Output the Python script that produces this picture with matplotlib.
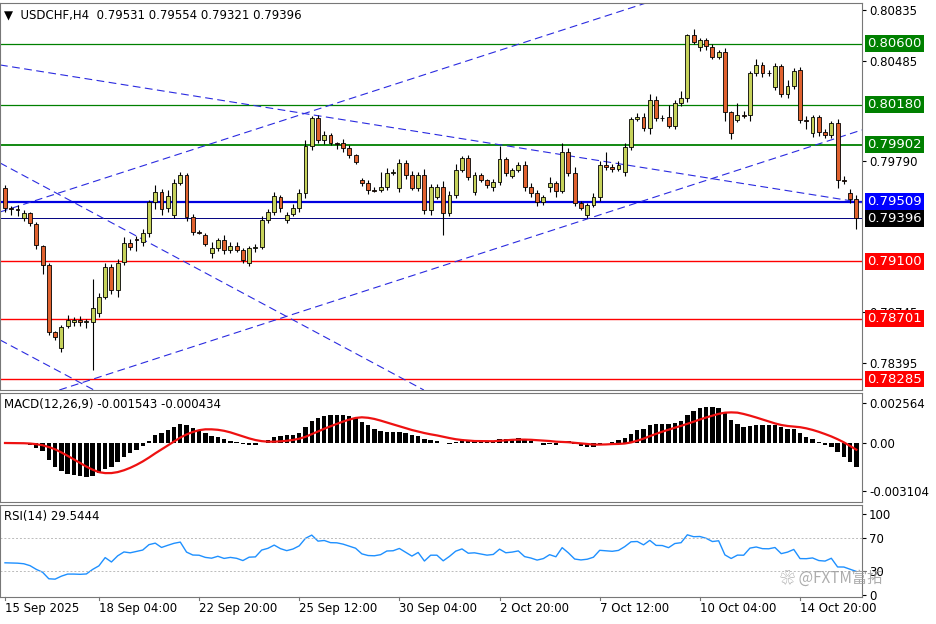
import matplotlib
matplotlib.use("Agg")
import matplotlib.pyplot as plt
import matplotlib.transforms as mtransforms
import numpy as np

# ---- data (prices in 1e-5 units) ----
opens = [79605, 79467, 79460, 79398, 79432, 79356, 79204, 79073, 78610, 78499,
         78651, 78679, 78693, 78679, 78679, 78741, 78852, 79059, 78900, 79094,
         79225, 79253, 79232, 79294, 79508, 79577, 79467, 79418, 79639, 79695,
         79405, 79301, 79280, 79156, 79190, 79246, 79176, 79204, 79176, 79087,
         79190, 79197, 79384, 79439, 79543, 79384, 79425, 79467, 79570, 79895,
         80089, 79937, 79971, 79916, 79916, 79881, 79833, 79660, 79639, 79591,
         79591, 79612, 79709, 79605, 79778, 79695, 79605, 79695, 79453, 79543,
         79612, 79432, 79557, 79729, 79812, 79577, 79695, 79660, 79612, 79646,
         79805, 79688, 79729, 79764, 79612, 79570, 79508, 79612, 79639, 79584,
         79854, 79709, 79501, 79418, 79487, 79543, 79764, 79750, 79736, 79716,
         79888, 80082, 80096, 80020, 80213, 80089, 80096, 80033, 80192, 80227,
         80662, 80579, 80628, 80579, 80510, 80545, 80130, 80075, 80109, 80109,
         80400, 80455, 80400, 80303, 80448, 80254, 80310, 80420, 80075, 79985,
         80096, 79992, 79971, 80054, 79660, 79570, 79531]
closes = [79467, 79460, 79453, 79432, 79363, 79211, 79073, 78610, 78575, 78644,
          78693, 78693, 78679, 78686, 78776, 78852, 79059, 78900, 79087, 79225,
          79197, 79246, 79294, 79508, 79577, 79460, 79550, 79639, 79695, 79405,
          79301, 79294, 79218, 79190, 79246, 79176, 79204, 79176, 79107, 79190,
          79197, 79384, 79439, 79550, 79467, 79418, 79467, 79570, 79895, 80089,
          79937, 79971, 79916, 79912, 79881, 79833, 79785, 79639, 79591, 79584,
          79612, 79709, 79716, 79778, 79695, 79605, 79695, 79453, 79612, 79612,
          79432, 79557, 79729, 79812, 79681, 79695, 79660, 79626, 79646, 79805,
          79709, 79729, 79764, 79612, 79570, 79508, 79543, 79639, 79584, 79854,
          79709, 79501, 79467, 79487, 79543, 79764, 79750, 79736, 79764, 79888,
          80082, 80096, 80020, 80213, 80089, 80085, 80033, 80192, 80227, 80662,
          80614, 80628, 80586, 80510, 80545, 80130, 79985, 80109, 80105, 80400,
          80455, 80400, 80396, 80448, 80254, 80310, 80413, 80075, 80071, 80096,
          79992, 79971, 80054, 79660, 79656, 79529, 79396]
upper_wick = [20, 15, 25, 20, 10, 15, 10, 15, 10, 15, 35, 20, 30, 15, 200, 25, 30, 20, 25, 40,
              30, 20, 30, 15, 50, 20, 40, 30, 20, 15, 20, 15, 15, 40, 15, 35, 25, 30, 15, 15,
              20, 30, 20, 25, 15, 20, 30, 25, 40, 15, 20, 30, 15, 10, 30, 20, 10, 15, 20, 20,
              100, 35, 20, 25, 20, 30, 20, 40, 20, 20, 40, 30, 40, 15, 20, 20, 15, 10, 20, 90,
              15, 15, 20, 30, 25, 20, 15, 45, 15, 60, 25, 40, 15, 15, 25, 25, 90, 20, 30, 25,
              15, 30, 25, 40, 25, 20, 80, 20, 45, 10, 40, 15, 15, 20, 15, 30, 10, 80, 25, 10,
              40, 20, 20, 20, 15, 40, 20, 20, 30, 15, 10, 20, 15, 25, 25, 25, 23]
lower_wick = [30, 40, 45, 20, 20, 30, 60, 20, 20, 30, 15, 25, 25, 40, 330, 30, 15, 25, 50, 20,
              20, 80, 25, 30, 50, 40, 25, 20, 15, 25, 20, 10, 15, 35, 20, 25, 20, 15, 20, 20,
              25, 15, 20, 20, 25, 20, 15, 30, 35, 30, 20, 30, 15, 40, 25, 20, 15, 20, 30, 10,
              15, 20, 15, 25, 30, 15, 20, 30, 35, 15, 150, 20, 20, 15, 20, 20, 15, 20, 25, 20,
              20, 15, 15, 25, 30, 25, 20, 35, 40, 15, 20, 20, 15, 20, 15, 25, 20, 20, 15, 30,
              20, 15, 20, 40, 20, 15, 15, 20, 20, 30, 15, 30, 30, 15, 15, 60, 40, 15, 20, 40,
              20, 25, 15, 20, 20, 30, 20, 20, 60, 30, 25, 20, 20, 55, 25, 30, 75]

levels = [0.80600, 0.80180, 0.79902, 0.79509, 0.79396, 0.79100, 0.78701, 0.78285]
level_colors = ["#008000", "#008000", "#008000", "#0000e0", "#000080", "#ff0000", "#ff0000", "#ff0000"]
level_widths = [0.9, 0.9, 1.3, 1.6, 0.7, 1.0, 1.0, 1.0]
box_colors = ["#008000", "#008000", "#008000", "#0000ff", "#000000", "#ff0000", "#ff0000", "#ff0000"]

# trend lines as (bar, price) pairs
trend_lines = [((-0.8, 0.79439), (102.4, 0.80883)),
               ((13.6, 0.78278), (136.9, 0.80006)),
               ((-0.8, 0.80455), (134.3, 0.79522)),
               ((-0.8, 0.79778), (66.3, 0.78223)),
               ((-0.8, 0.78555), (13.6, 0.78223))]

price_ticks = [0.80835, 0.80485, 0.79790, 0.78745, 0.78395]
date_pos = [0, 15, 31, 47, 63, 79, 95, 111, 127]
date_labels = ["15 Sep 2025", "18 Sep 04:00", "22 Sep 20:00", "25 Sep 12:00", "30 Sep 04:00",
               "2 Oct 20:00", "7 Oct 12:00", "10 Oct 04:00", "14 Oct 20:00"]

o = np.array(opens) / 1e5
c = np.array(closes) / 1e5
hi = np.maximum(o, c) + np.array(upper_wick) / 1e5
lo = np.minimum(o, c) - np.array(lower_wick) / 1e5
n = len(c)
idx = np.arange(n)

# indicators from the closes
def ema(x, p):
    k = 2.0 / (p + 1)
    out = np.empty_like(x)
    out[0] = x[0]
    for i in range(1, len(x)):
        out[i] = x[i] * k + out[i - 1] * (1 - k)
    return out

macd = ema(c, 12) - ema(c, 26)
signal = np.array([macd[max(0, i - 8):i + 1].mean() for i in range(n)])

d = np.diff(c, prepend=c[0])
up = np.where(d > 0, d, 0.0)
dn = np.where(d < 0, -d, 0.0)
au = np.empty(n); ad = np.empty(n)
au[0] = 0.0004; ad[0] = 0.0006
for i in range(1, n):
    au[i] = (au[i - 1] * 13 + up[i]) / 14
    ad[i] = (ad[i - 1] * 13 + dn[i]) / 14
rsi = 100 - 100 / (1 + au / ad)

# ---- figure ----
plt.rcParams['font.family'] = ['DejaVu Sans', 'Noto Sans CJK SC']
fig = plt.figure(figsize=(9.36, 6.24), dpi=100)
W, H = 936.0, 624.0
x_left = -0.8
x_right = 136.9

def panel(top, bottom):
    return fig.add_axes([0, 1 - bottom / H, 862 / W, (bottom - top) / H])

ax = panel(3, 390)
am = panel(393, 502)
ar = panel(505, 597)

for a in (ax, am, ar):
    a.set_xlim(x_left, x_right)
    a.yaxis.tick_right()
    a.tick_params(axis='y', labelsize=8.5, length=3, pad=2)
    a.tick_params(axis='x', length=0, labelbottom=False)
    for s in a.spines.values():
        s.set_color("#777777")
        s.set_linewidth(0.8)

# candles
bull = c >= o
ax.vlines(idx, lo, hi, color="black", linewidth=0.8, zorder=3)
body_h = np.abs(c - o)
body_h = np.where(body_h < 0.00003, 0.00003, body_h)
ax.bar(idx[bull], body_h[bull], bottom=np.minimum(o, c)[bull], width=0.62,
       color="#c6d25a", edgecolor="black", linewidth=0.6, zorder=4)
ax.bar(idx[~bull], body_h[~bull], bottom=np.minimum(o, c)[~bull], width=0.62,
       color="#e0612e", edgecolor="black", linewidth=0.6, zorder=4)

for lv, col, lw in zip(levels, level_colors, level_widths):
    ax.axhline(lv, color=col, linewidth=lw, zorder=2)
for p1, p2 in trend_lines:
    ax.axline(p1, p2, color="#2a2ae0", linewidth=0.8, linestyle=(0, (7, 4)), zorder=2)

ax.set_ylim(0.78209, 0.80883)
ax.set_yticks(price_ticks)
ax.set_yticklabels(["%.5f" % t for t in price_ticks])
trans = mtransforms.blended_transform_factory(ax.transAxes, ax.transData)
for lv, bc in zip(levels, box_colors):
    ax.text(1.006, lv, "%.5f" % lv, transform=trans, fontsize=9.5, color="white",
            va="center", ha="left", zorder=10, clip_on=False,
            bbox=dict(boxstyle="square,pad=0.15", facecolor=bc, edgecolor="none"))
ax.text(0.005, 0.985, "\u25bc  USDCHF,H4  0.79531 0.79554 0.79321 0.79396", transform=ax.transAxes,
        fontsize=8.5, va="top", ha="left")

# MACD
am.bar(idx, macd, width=0.7, color="black")
am.plot(idx, signal, color="#ee1111", linewidth=1.6)
am.set_ylim(-0.003806, 0.003225)
am.set_yticks([0.002564, 0.0, -0.003104])
am.set_yticklabels(["0.002564", "0.00", "-0.003104"])
am.text(0.005, 0.95, "MACD(12,26,9) -0.001543 -0.000434", transform=am.transAxes,
        fontsize=8.5, va="top", ha="left")

# RSI
ar.plot(idx, rsi, color="#1e90ff", linewidth=1.0)
for lv in (70, 30):
    ar.axhline(lv, color="#bbbbbb", linewidth=0.7, linestyle=(0, (2, 2)))
ar.set_ylim(-2, 111)
ar.set_yticks([100, 70, 30, 0])
ar.set_yticklabels(["100", "70", "30", "0"])
ar.text(0.005, 0.95, "RSI(14) 29.5444", transform=ar.transAxes, fontsize=8.5, va="top", ha="left")
ar.text(0.905, 0.2, "\u2740 @FXTM\u5bcc\u62d3", transform=ar.transAxes, fontsize=11,
        color="#999999", alpha=0.8, ha="left", va="center", zorder=10, clip_on=False,
        family=['Noto Sans CJK SC', 'DejaVu Sans'])

for p, lab in zip(date_pos, date_labels):
    ar.plot([p, p], [-2, -6], color="#777777", linewidth=0.8, clip_on=False)
    ar.text(p, -8, lab, fontsize=8.5, ha="left", va="top")

fig.savefig("out.png", dpi=100)
